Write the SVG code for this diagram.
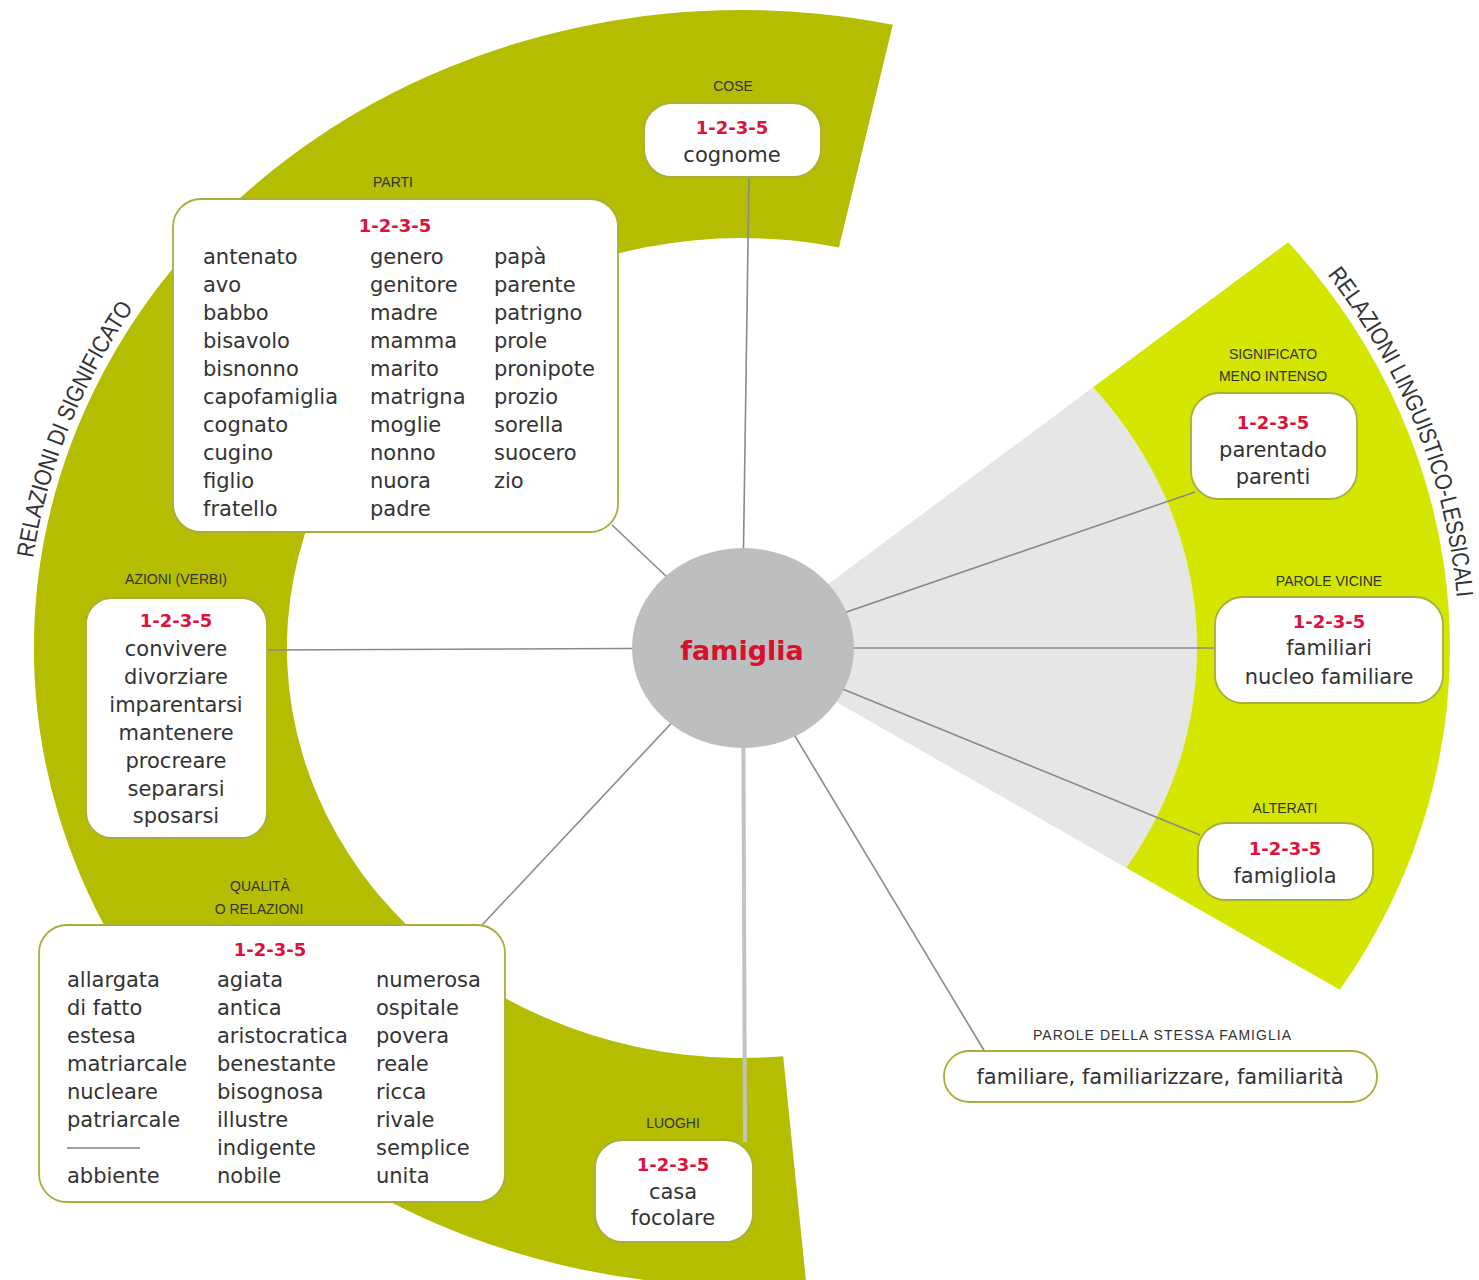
<svg xmlns="http://www.w3.org/2000/svg" width="1479" height="1280" viewBox="0 0 1479 1280">
<defs>
<style>
.w{font-family:"DejaVu Sans",sans-serif;font-size:21px;fill:#333}
.wc{font-family:"DejaVu Sans",sans-serif;font-size:21px;fill:#333;text-anchor:middle}
.n{font-family:"DejaVu Sans",sans-serif;font-weight:bold;font-size:18px;fill:#e0103c;text-anchor:middle}
.lab{font-family:"Liberation Sans",sans-serif;font-size:14px;fill:#333;text-anchor:middle}
.box{fill:#fff;stroke:#a9ad3c;stroke-width:1.8}
.c{stroke:#8a8a8a;stroke-width:1.6;fill:none}
.arc{font-family:"Liberation Sans",sans-serif;font-size:24px;fill:#333}
</style>
<path id="arcL" d="M 33 558.2 A 716 645 0 0 1 141.5 296.7"/>
<path id="arcR1" d="M 1327.1 274.7 A 717 646 0 0 1 1439.6 499.0"/>
<path id="arcR2" d="M 1439.6 499.0 A 717 646 0 0 1 1457 599.6"/>
</defs>
<rect width="1479" height="1280" fill="#fff"/>
<g id="bands">
<path d="M 892.8 24.7 A 708 638 0 1 0 806.2 1283.4 L 783.2 1056.3 A 455 410 0 1 1 838.9 247.4 Z" fill="#b5bd00"/>
<path d="M 742 648 L 1093.1 387.2 A 455 410 0 0 1 1126.2 867.7 Z" fill="#e6e6e6"/>
<path d="M 1288.3 242.2 A 708 638 0 0 1 1339.8 989.8 L 1126.2 867.7 A 455 410 0 0 0 1093.1 387.2 Z" fill="#d4e600"/>
<text class="arc"><textPath href="#arcL" textLength="272" lengthAdjust="spacingAndGlyphs">RELAZIONI DI SIGNIFICATO</textPath></text>
<text class="arc"><textPath href="#arcR1" textLength="252" lengthAdjust="spacingAndGlyphs">RELAZIONI LINGUISTICO-</textPath></text>
<text class="arc"><textPath href="#arcR2" textLength="100" lengthAdjust="spacingAndGlyphs">LESSICALI</textPath></text>
</g>
<g id="connectors">
<line class="c" x1="742" y1="648" x2="749" y2="177"/>
<line class="c" x1="742" y1="648" x2="612" y2="525"/>
<line class="c" x1="742" y1="648" x2="267" y2="650"/>
<line class="c" x1="742" y1="648" x2="482" y2="925"/>
<line x1="743" y1="648" x2="745" y2="1142" stroke="#c2c2c2" stroke-width="4"/>
<line class="c" x1="742" y1="648" x2="985" y2="1052"/>
<line class="c" x1="742" y1="648" x2="1200" y2="835"/>
<line class="c" x1="742" y1="648" x2="1215" y2="648"/>
<line class="c" x1="742" y1="648" x2="1195" y2="492"/>
</g>
<g id="famiglia">
<ellipse cx="743" cy="648" rx="111" ry="100" fill="#bcbec0"/>
<text x="742" y="660" font-family="DejaVu Sans, sans-serif" font-weight="bold" font-size="27" fill="#d8102c" text-anchor="middle">famiglia</text>
</g>
<g id="cose">
<text class="lab" x="733" y="91">COSE</text>
<rect class="box" x="644" y="103" width="177" height="74" rx="28"/>
<text class="n" x="732" y="134">1-2-3-5</text>
<text class="wc" x="732" y="162">cognome</text>
</g>
<g id="parti">
<text class="lab" x="393" y="187">PARTI</text>
<rect class="box" x="173" y="199" width="445" height="333" rx="28"/>
<text class="n" x="395" y="232">1-2-3-5</text>
<text class="w" x="203" y="264">antenato</text>
<text class="w" x="203" y="292">avo</text>
<text class="w" x="203" y="320">babbo</text>
<text class="w" x="203" y="348">bisavolo</text>
<text class="w" x="203" y="376">bisnonno</text>
<text class="w" x="203" y="404">capofamiglia</text>
<text class="w" x="203" y="432">cognato</text>
<text class="w" x="203" y="460">cugino</text>
<text class="w" x="203" y="488">figlio</text>
<text class="w" x="203" y="516">fratello</text>
<text class="w" x="370" y="264">genero</text>
<text class="w" x="370" y="292">genitore</text>
<text class="w" x="370" y="320">madre</text>
<text class="w" x="370" y="348">mamma</text>
<text class="w" x="370" y="376">marito</text>
<text class="w" x="370" y="404">matrigna</text>
<text class="w" x="370" y="432">moglie</text>
<text class="w" x="370" y="460">nonno</text>
<text class="w" x="370" y="488">nuora</text>
<text class="w" x="370" y="516">padre</text>
<text class="w" x="494" y="264">papà</text>
<text class="w" x="494" y="292">parente</text>
<text class="w" x="494" y="320">patrigno</text>
<text class="w" x="494" y="348">prole</text>
<text class="w" x="494" y="376">pronipote</text>
<text class="w" x="494" y="404">prozio</text>
<text class="w" x="494" y="432">sorella</text>
<text class="w" x="494" y="460">suocero</text>
<text class="w" x="494" y="488">zio</text>
</g>
<g id="azioni">
<text class="lab" x="176" y="584">AZIONI (VERBI)</text>
<rect class="box" x="86" y="598" width="181" height="240" rx="26"/>
<text class="n" x="176" y="627">1-2-3-5</text>
<text class="wc" x="176" y="656">convivere</text>
<text class="wc" x="176" y="684">divorziare</text>
<text class="wc" x="176" y="712">imparentarsi</text>
<text class="wc" x="176" y="740">mantenere</text>
<text class="wc" x="176" y="768">procreare</text>
<text class="wc" x="176" y="796">separarsi</text>
<text class="wc" x="176" y="823">sposarsi</text>
</g>
<g id="qualita">
<text class="lab" x="260" y="891">QUALITÀ</text>
<text class="lab" x="259" y="914">O RELAZIONI</text>
<rect class="box" x="39" y="925" width="466" height="277" rx="28"/>
<text class="n" x="270" y="956">1-2-3-5</text>
<text class="w" x="67" y="987">allargata</text>
<text class="w" x="67" y="1015">di fatto</text>
<text class="w" x="67" y="1043">estesa</text>
<text class="w" x="67" y="1071">matriarcale</text>
<text class="w" x="67" y="1099">nucleare</text>
<text class="w" x="67" y="1127">patriarcale</text>
<line x1="67" y1="1148" x2="140" y2="1148" stroke="#444" stroke-width="1.2"/>
<text class="w" x="67" y="1183">abbiente</text>
<text class="w" x="217" y="987">agiata</text>
<text class="w" x="217" y="1015">antica</text>
<text class="w" x="217" y="1043">aristocratica</text>
<text class="w" x="217" y="1071">benestante</text>
<text class="w" x="217" y="1099">bisognosa</text>
<text class="w" x="217" y="1127">illustre</text>
<text class="w" x="217" y="1155">indigente</text>
<text class="w" x="217" y="1183">nobile</text>
<text class="w" x="376" y="987">numerosa</text>
<text class="w" x="376" y="1015">ospitale</text>
<text class="w" x="376" y="1043">povera</text>
<text class="w" x="376" y="1071">reale</text>
<text class="w" x="376" y="1099">ricca</text>
<text class="w" x="376" y="1127">rivale</text>
<text class="w" x="376" y="1155">semplice</text>
<text class="w" x="376" y="1183">unita</text>
</g>
<g id="luoghi">
<text class="lab" x="673" y="1128">LUOGHI</text>
<rect class="box" x="595" y="1140" width="158" height="102" rx="28"/>
<text class="n" x="673" y="1171">1-2-3-5</text>
<text class="wc" x="673" y="1199">casa</text>
<text class="wc" x="673" y="1225">focolare</text>
</g>
<g id="significato">
<text class="lab" x="1273" y="359">SIGNIFICATO</text>
<text class="lab" x="1273" y="381">MENO INTENSO</text>
<rect class="box" x="1191" y="393" width="166" height="106" rx="28"/>
<text class="n" x="1273" y="429">1-2-3-5</text>
<text class="wc" x="1273" y="457">parentado</text>
<text class="wc" x="1273" y="484">parenti</text>
</g>
<g id="vicine">
<text class="lab" x="1329" y="586">PAROLE VICINE</text>
<rect class="box" x="1215" y="597" width="228" height="106" rx="28"/>
<text class="n" x="1329" y="628">1-2-3-5</text>
<text class="wc" x="1329" y="655">familiari</text>
<text class="wc" x="1329" y="684">nucleo familiare</text>
</g>
<g id="alterati">
<text class="lab" x="1285" y="813">ALTERATI</text>
<rect class="box" x="1198" y="823" width="175" height="77" rx="28"/>
<text class="n" x="1285" y="855">1-2-3-5</text>
<text class="wc" x="1285" y="883">famigliola</text>
</g>
<g id="stessa">
<text class="lab" x="1162" y="1040" textLength="258">PAROLE DELLA STESSA FAMIGLIA</text>
<rect class="box" x="944" y="1051" width="433" height="51" rx="25"/>
<text class="wc" x="1160" y="1084" font-size="21.5">familiare, familiarizzare, familiarità</text>
</g>
</svg>
